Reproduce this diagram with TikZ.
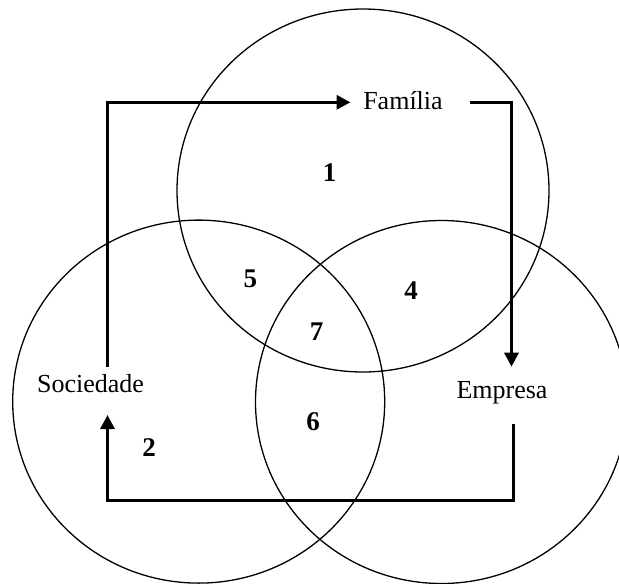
\documentclass[tikz,border=0pt]{standalone}
\usepackage{fontspec}
\setmainfont{Liberation Serif}
\usetikzlibrary{arrows.meta}
\begin{document}
\begin{tikzpicture}[x=1pt,y=-1pt,
  ring/.style={draw=black,line width=1.3pt},
  label/.style={inner sep=0pt,anchor=base,font=\fontsize{26}{30}\selectfont},
  region/.style={inner sep=0pt,anchor=base,font=\fontsize{27}{30}\selectfont\bfseries},
  flow/.style={draw=black,line width=3.2pt,miter limit=10,
    -{Triangle[length=14pt,width=14pt]}}]
\useasboundingbox (0,0) rectangle (619,584);

% three overlapping sets
\draw[ring] (363,190.5) ellipse [x radius=186,y radius=181.5];
\draw[ring] (198.7,401.6) ellipse [x radius=186,y radius=181.5];
\draw[ring] (441.5,402) ellipse [x radius=186,y radius=181.5];

% set names
\node[label] (fam) at (403,109.3) {Família};
\node[label] (soc) at (90.5,392.7) {Sociedade};
\node[label] (emp) at (502,398.3) {Empresa};

% region numbers
\node[region] (r1) at (329.5,181.7) {1};
\node[region] (r2) at (149.2,456) {2};
\node[region] (r4) at (411,299.3) {4};
\node[region] (r5) at (250.3,287.3) {5};
\node[region] (r6) at (313,430) {6};
\node[region] (r7) at (316.7,340) {7};

% ends of the flow cycle
\coordinate (socOut) at (107.5,366.7);
\coordinate (famIn) at (350.5,102.3);
\coordinate (famOut) at (470,102.3);
\coordinate (empIn) at (511.5,366.7);
\coordinate (empOut) at (513.3,424);
\coordinate (socIn) at (107.5,415);
\coordinate (loopLow) at (513.3,500.5);

% Sociedade -> Família -> Empresa -> Sociedade
\draw[flow] (socOut) |- (famIn);
\draw[flow] (famOut) -| (empIn);
\draw[flow] (empOut) -- (loopLow) -| (socIn);
\end{tikzpicture}
\end{document}
